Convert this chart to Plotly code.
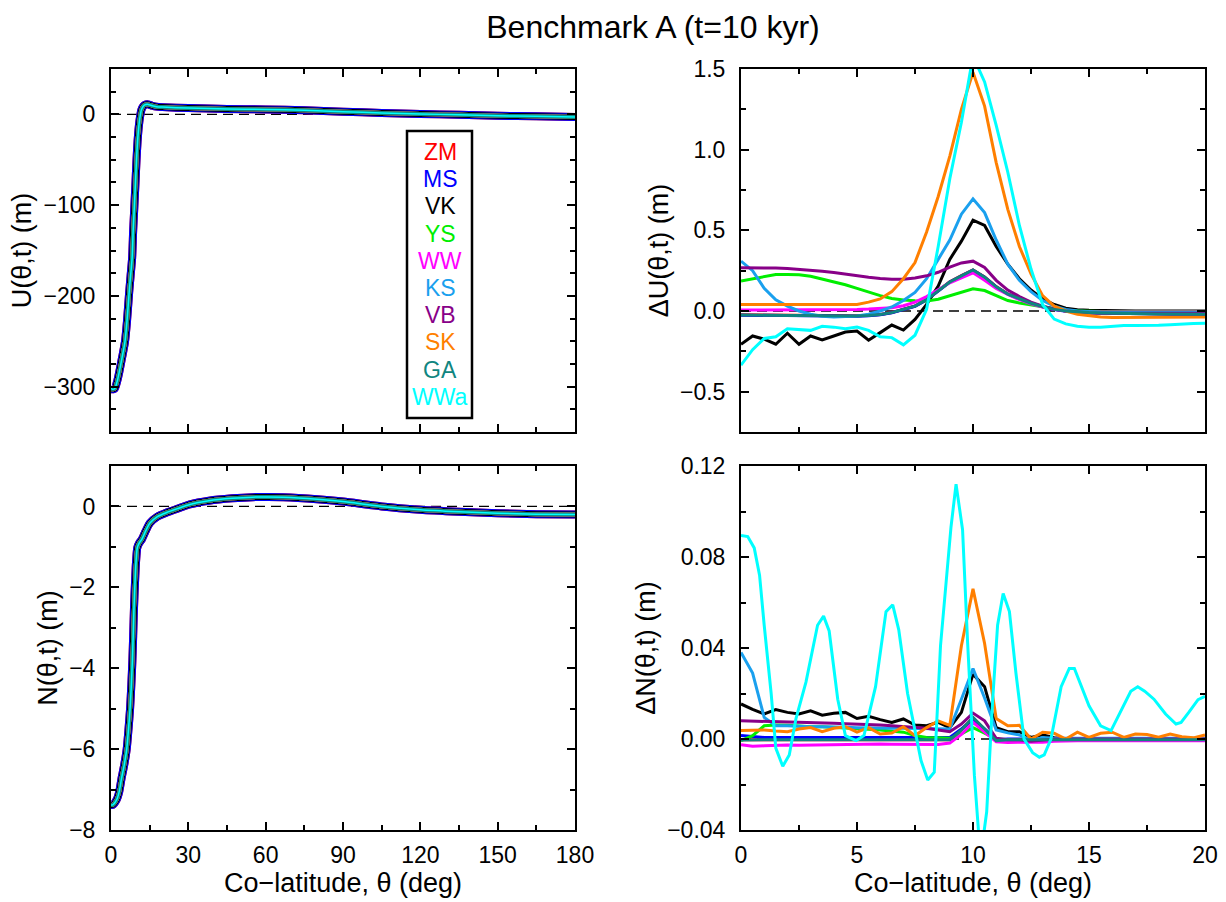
import plotly.graph_objects as go

# ---------------- data ----------------
models = ["ZM", "MS", "VK", "YS", "WW", "KS", "VB", "SK", "GA", "WWa"]
colors = ["#FF0000", "#0000FF", "#000000", "#00EE00", "#FF00FF",
          "#1AA0EE", "#880088", "#FF7F00", "#108580", "#00FFFF"]

# Left panels: all models coincide within line width
theta_U = [0, 0.5, 1.5, 2.5, 3.2, 4.3, 5.4, 6.2, 7.05, 7.6, 8.2, 8.6, 9.0, 9.5, 9.9,
           10.3, 10.8, 11.3, 11.8, 12.5, 13.1, 14.4, 16, 17.6, 20, 30, 45, 60, 75,
           90, 105, 120, 135, 150, 165, 180]
U_all = [-300, -303, -302, -293, -284, -268, -251, -228, -196, -178, -158, -128, -105,
         -75, -50, -30, -13, -2, 5, 9, 10.5, 11, 9.5, 8.5, 8, 7, 6, 5.5, 4.5, 3, 1.5,
         0.5, -0.5, -1.5, -2.2, -2.8]

theta_N = [0, 0.65, 2.2, 3.2, 4.1, 5.1, 6.1, 6.8, 7.4, 7.9, 8.3, 8.6, 8.9, 9.3, 9.6,
           9.9, 10.2, 11, 11.9, 13.5, 15.1, 18, 21.6, 26, 30.6, 38, 47, 55, 66.8, 80,
           90, 105, 120, 135, 150, 165, 180]
N_all = [-7.38, -7.38, -7.25, -7.05, -6.72, -6.4, -6.0, -5.5, -5.0, -4.4, -3.8, -3.2,
         -2.55, -1.9, -1.48, -1.2, -1.02, -0.9, -0.82, -0.6, -0.41, -0.25, -0.15,
         -0.05, 0.05, 0.14, 0.2, 0.23, 0.23, 0.18, 0.12, 0.0, -0.08, -0.13, -0.17,
         -0.19, -0.2]

# Right panels: common co-latitude grid (deg)
theta_r = [0, 0.5, 1, 1.5, 2, 2.5, 3, 3.5, 4, 4.5, 5, 5.5, 6, 6.5, 7, 7.5, 8, 8.5, 9,
           9.5, 10, 10.5, 11, 11.5, 12, 12.5, 13, 13.5, 14, 14.5, 15, 15.5, 16, 16.5,
           17, 17.5, 18, 18.5, 19, 19.5, 20]

dU_ZM = [-0.023, -0.024, -0.025, -0.026, -0.027, -0.028, -0.029, -0.029, -0.030, -0.030,
         -0.030, -0.027, -0.021, -0.009, 0.009, 0.031, 0.071, 0.126, 0.181, 0.219, 0.255,
         0.211, 0.151, 0.106, 0.076, 0.049, 0.028, 0.011, 0.001, -0.005, -0.009, -0.011,
         -0.013, -0.014, -0.015, -0.016, -0.017, -0.018, -0.018, -0.019, -0.019]
dU_MS = [-0.026, -0.027, -0.028, -0.029, -0.030, -0.031, -0.032, -0.032, -0.032, -0.032,
         -0.032, -0.029, -0.023, -0.011, 0.007, 0.029, 0.069, 0.124, 0.179, 0.217, 0.253,
         0.209, 0.149, 0.104, 0.074, 0.047, 0.026, 0.009, -0.001, -0.007, -0.011, -0.013,
         -0.015, -0.016, -0.017, -0.018, -0.019, -0.020, -0.020, -0.021, -0.021]
dU_VK = [-0.206, -0.155, -0.175, -0.206, -0.138, -0.206, -0.155, -0.179, -0.155, -0.130,
         -0.124, -0.181, -0.134, -0.087, -0.118, -0.052, 0.041, 0.155, 0.320, 0.433,
         0.563, 0.530, 0.400, 0.290, 0.200, 0.130, 0.075, 0.040, 0.017, 0.008, 0.004,
         0.002, 0.001, 0.001, 0.0, 0.0, 0.0, 0.0, 0.0, 0.0, 0.0]
dU_YS = [0.186, 0.200, 0.215, 0.226, 0.227, 0.224, 0.215, 0.198, 0.183, 0.163, 0.140,
         0.117, 0.095, 0.078, 0.068, 0.063, 0.062, 0.073, 0.095, 0.120, 0.138, 0.127,
         0.095, 0.065, 0.050, 0.038, 0.025, 0.013, 0.003, 0.0, -0.003, -0.003, -0.003,
         -0.003, -0.003, -0.003, -0.003, -0.003, -0.003, -0.003, -0.003]
dU_WW = [0.006, 0.006, 0.006, 0.007, 0.007, 0.007, 0.008, 0.008, 0.008, 0.009, 0.010,
         0.012, 0.015, 0.020, 0.033, 0.055, 0.089, 0.130, 0.175, 0.205, 0.237, 0.190,
         0.140, 0.103, 0.070, 0.045, 0.025, 0.010, 0.0, -0.004, -0.006, -0.006, -0.006,
         -0.006, -0.006, -0.006, -0.006, -0.006, -0.006, -0.006, -0.006]
dU_KS = [0.309, 0.250, 0.140, 0.070, 0.030, 0.0, -0.020, -0.033, -0.037, -0.036, -0.031,
         -0.020, 0.0, 0.025, 0.065, 0.115, 0.200, 0.320, 0.440, 0.600, 0.695, 0.610,
         0.440, 0.290, 0.190, 0.120, 0.065, 0.030, 0.010, 0.0, -0.005, -0.008, -0.009,
         -0.010, -0.010, -0.010, -0.010, -0.010, -0.010, -0.010, -0.010]
dU_VB = [0.268, 0.268, 0.267, 0.266, 0.263, 0.259, 0.254, 0.247, 0.238, 0.227, 0.218,
         0.209, 0.202, 0.197, 0.197, 0.205, 0.218, 0.240, 0.272, 0.298, 0.309, 0.270,
         0.190, 0.130, 0.090, 0.055, 0.030, 0.012, 0.0, -0.008, -0.012, -0.014, -0.014,
         -0.014, -0.014, -0.014, -0.014, -0.014, -0.014, -0.014, -0.014]
dU_SK = [0.041, 0.041, 0.040, 0.039, 0.038, 0.037, 0.037, 0.037, 0.037, 0.038, 0.040,
         0.055, 0.075, 0.120, 0.200, 0.300, 0.490, 0.710, 0.960, 1.250, 1.480, 1.270,
         0.920, 0.630, 0.400, 0.230, 0.095, 0.030, 0.0, -0.020, -0.030, -0.037, -0.040,
         -0.040, -0.040, -0.040, -0.040, -0.039, -0.038, -0.038, -0.037]
dU_GA = [-0.025, -0.026, -0.027, -0.028, -0.029, -0.030, -0.031, -0.031, -0.031, -0.031,
         -0.031, -0.028, -0.022, -0.010, 0.008, 0.030, 0.070, 0.125, 0.180, 0.218, 0.254,
         0.210, 0.150, 0.105, 0.075, 0.048, 0.027, 0.010, 0.0, -0.006, -0.010, -0.012,
         -0.014, -0.015, -0.016, -0.017, -0.018, -0.019, -0.019, -0.020, -0.020]
dU_WWa = [-0.336, -0.240, -0.170, -0.160, -0.110, -0.115, -0.120, -0.095, -0.100, -0.110,
          -0.100, -0.120, -0.160, -0.165, -0.210, -0.150, 0.010, 0.400, 0.820, 1.170,
          1.580, 1.420, 1.150, 0.860, 0.530, 0.260, 0.040, -0.050, -0.080, -0.095, -0.100,
          -0.100, -0.095, -0.090, -0.090, -0.090, -0.088, -0.085, -0.080, -0.078, -0.076]

dN_ZM = [-0.0003, -0.0003, -0.0003, -0.0003, -0.0003, -0.0003, -0.0003, -0.0003, -0.0003,
         -0.0003, -0.0003, -0.0003, -0.0003, -0.0003, -0.0003, -0.0003, -0.0003, -0.0003,
         -0.0003, 0.0040, 0.0093, 0.0043, -0.0006, -0.0003, -0.0003, -0.0003, -0.0003,
         -0.0003, -0.0003, -0.0003, -0.0003, -0.0003, -0.0003, -0.0003, -0.0003, -0.0003,
         -0.0003, -0.0003, -0.0003, -0.0003, -0.0003]
dN_MS = [0.0015, 0.0010, 0.0007, 0.0007, 0.0007, 0.0007, 0.0007, 0.0007, 0.0007, 0.0007,
         0.0007, 0.0007, 0.0007, 0.0007, 0.0007, 0.0007, 0.0007, 0.0007, 0.0007, 0.0044,
         0.0085, 0.0044, -0.0003, 0.0, 0.0, 0.0, 0.0, 0.0, 0.0, 0.0, 0.0, 0.0, 0.0, 0.0,
         0.0, 0.0, 0.0, 0.0, 0.0, 0.0, 0.0]
dN_VK = [0.0154, 0.0130, 0.0110, 0.0129, 0.0117, 0.0110, 0.0124, 0.0105, 0.0113, 0.0117,
         0.0090, 0.0100, 0.0085, 0.0073, 0.0088, 0.0061, 0.0058, 0.0073, 0.0050, 0.0117,
         0.0285, 0.0230, 0.0050, 0.0032, 0.0032, 0.0007, 0.0018, 0.0006, 0.0, 0.0, 0.0,
         0.0, 0.0, 0.0, 0.0, 0.0, 0.0, 0.0, 0.0, 0.0, 0.0]
dN_YS = [-0.0007, 0.0015, 0.0058, 0.0061, 0.0060, 0.0056, 0.0054, 0.0054, 0.0052, 0.0047,
         0.0047, 0.0043, 0.0040, 0.0035, 0.0030, 0.0015, 0.0007, 0.0005, 0.0003, 0.0022,
         0.0050, 0.0026, 0.0, -0.0003, -0.0003, -0.0003, -0.0003, -0.0003, -0.0003,
         -0.0003, -0.0003, -0.0003, -0.0003, -0.0003, -0.0003, -0.0003, -0.0003, -0.0003,
         -0.0003, -0.0003, -0.0003]
dN_WW = [-0.0025, -0.0032, -0.0030, -0.0027, -0.0026, -0.0027, -0.0026, -0.0026, -0.0025,
         -0.0025, -0.0024, -0.0024, -0.0022, -0.0023, -0.0024, -0.0025, -0.0026, -0.0024,
         -0.0018, 0.0020, 0.0073, 0.0030, -0.0012, -0.0015, -0.0015, -0.0015, -0.0014,
         -0.0010, -0.0008, -0.0008, -0.0008, -0.0008, -0.0008, -0.0008, -0.0008, -0.0008,
         -0.0008, -0.0008, -0.0008, -0.0008, -0.0008]
dN_KS = [0.0380, 0.0290, 0.0095, 0.0058, 0.0058, 0.0055, 0.0054, 0.0054, 0.0054, 0.0052,
         0.0050, 0.0048, 0.0047, 0.0047, 0.0047, 0.0047, 0.0047, 0.0045, 0.0044, 0.0175,
         0.0310, 0.0180, 0.0040, 0.0027, 0.0018, -0.0007, 0.0007, 0.0003, 0.0003, 0.0003,
         0.0003, 0.0003, 0.0003, 0.0003, 0.0003, 0.0003, 0.0003, 0.0003, 0.0003, 0.0003,
         0.0003]
dN_VB = [0.0080, 0.0079, 0.0077, 0.0075, 0.0073, 0.0072, 0.0071, 0.0070, 0.0069, 0.0067,
         0.0066, 0.0063, 0.0061, 0.0058, 0.0055, 0.0051, 0.0047, 0.0040, 0.0032, 0.0066,
         0.0114, 0.0080, 0.0003, -0.0003, -0.0003, -0.0010, -0.0005, 0.0, 0.0, 0.0, 0.0,
         0.0, 0.0, 0.0, 0.0, 0.0, 0.0, 0.0, 0.0, 0.0, 0.0]
dN_SK = [0.0037, 0.0040, 0.0040, 0.0035, 0.0032, 0.0044, 0.0050, 0.0032, 0.0047, 0.0054,
         0.0030, 0.0050, 0.0022, 0.0026, 0.0054, 0.0015, 0.0050, 0.0080, 0.0060, 0.0410,
         0.0660, 0.0420, 0.0090, 0.0058, 0.0060, 0.0, 0.0030, 0.0025, 0.0, 0.0030, 0.0007,
         0.0025, 0.0030, 0.0007, 0.0022, 0.0020, 0.0008, 0.0022, 0.0010, 0.0005, 0.0018]
dN_GA = [-0.0004, -0.0003, -0.0003, -0.0003, -0.0003, -0.0003, -0.0003, -0.0003, -0.0003,
         -0.0003, -0.0003, -0.0003, -0.0003, -0.0003, -0.0003, -0.0003, -0.0003, -0.0003,
         -0.0003, 0.0040, 0.0095, 0.0044, -0.0007, -0.0003, -0.0003, -0.0003, -0.0003,
         -0.0003, -0.0003, -0.0003, -0.0003, -0.0003, -0.0003, -0.0003, -0.0003, -0.0003,
         -0.0003, -0.0003, -0.0003, -0.0003, -0.0003]

# WWa geoid difference oscillates; it has its own sampling
theta_dN_WWa = [0, 0.29, 0.57, 0.8, 1.0, 1.3, 1.5, 1.8, 2.08, 2.37, 2.8, 3.3, 3.56, 3.8,
                4.17, 4.5, 4.96, 5.3, 5.8, 6.25, 6.54, 6.8, 7.18, 7.76, 8.05, 8.33, 8.6,
                9.05, 9.27, 9.55, 9.77, 10.06, 10.27, 10.42, 10.59, 10.85, 11.06, 11.3,
                11.57, 11.85, 12.2, 12.57, 12.86, 13.07, 13.36, 13.8, 14.15, 14.37, 15.0,
                15.5, 15.95, 16.38, 16.8, 17.1, 17.4, 17.8, 18.3, 18.75, 18.97, 19.3,
                19.7, 20]
dN_WWa = [0.0895, 0.089, 0.084, 0.072, 0.050, 0.020, -0.004, -0.012, -0.007, 0.009, 0.025,
          0.050, 0.054, 0.0475, 0.0175, 0.0015, -0.0007, 0.0015, 0.023, 0.056, 0.059,
          0.048, 0.020, -0.0095, -0.018, -0.0146, 0.041, 0.093, 0.112, 0.092, 0.042,
          -0.016, -0.045, -0.045, -0.032, 0.0175, 0.050, 0.064, 0.056, 0.029, 0.0, -0.006,
          -0.008, -0.007, 0.0, 0.023, 0.031, 0.031, 0.0146, 0.0058, 0.0037, 0.0124, 0.021,
          0.023, 0.021, 0.0175, 0.011, 0.0066, 0.0073, 0.0117, 0.0173, 0.0187]

dU = {"ZM": dU_ZM, "MS": dU_MS, "VK": dU_VK, "YS": dU_YS, "WW": dU_WW,
      "KS": dU_KS, "VB": dU_VB, "SK": dU_SK, "GA": dU_GA, "WWa": dU_WWa}
dN = {"ZM": dN_ZM, "MS": dN_MS, "VK": dN_VK, "YS": dN_YS, "WW": dN_WW,
      "KS": dN_KS, "VB": dN_VB, "SK": dN_SK, "GA": dN_GA}

# ---------------- style ----------------
W, H = 1226, 902
FONT = "Liberation Sans, Arial, Helvetica, sans-serif"
left_widths = {"ZM": 8, "MS": 8, "VK": 6, "YS": 4, "WW": 4, "KS": 4,
               "VB": 4, "SK": 4, "GA": 4, "WWa": 1.5}

def px_x(p):
    return p / W

def px_y(p):
    return 1 - p / H

fig = go.Figure()

# zero reference lines (drawn first, under the curves)
for xa, ya, xr in [("x", "y", [0, 180]), ("x2", "y2", [0, 20]),
                   ("x3", "y3", [0, 180]), ("x4", "y4", [0, 20])]:
    fig.add_trace(go.Scatter(x=xr, y=[0, 0], xaxis=xa, yaxis=ya, mode="lines",
                             line=dict(color="black", width=1.3, dash="10px,6px"),
                             showlegend=False, hoverinfo="skip"))

for m, c in zip(models, colors):
    fig.add_trace(go.Scatter(x=theta_U, y=U_all, xaxis="x", yaxis="y", mode="lines",
                             line=dict(color=c, width=left_widths[m], shape="spline",
                                       smoothing=0.6),
                             name=m, showlegend=False))
    fig.add_trace(go.Scatter(x=theta_N, y=N_all, xaxis="x3", yaxis="y3", mode="lines",
                             line=dict(color=c, width=left_widths[m], shape="spline",
                                       smoothing=0.6),
                             name=m, showlegend=False))
    fig.add_trace(go.Scatter(x=theta_r, y=dU[m], xaxis="x2", yaxis="y2", mode="lines",
                             line=dict(color=c, width=3), name=m, showlegend=False))
    if m == "WWa":
        fig.add_trace(go.Scatter(x=theta_dN_WWa, y=dN_WWa, xaxis="x4", yaxis="y4",
                                 mode="lines", line=dict(color=c, width=3), name=m,
                                 showlegend=False))
    else:
        fig.add_trace(go.Scatter(x=theta_r, y=dN[m], xaxis="x4", yaxis="y4",
                                 mode="lines", line=dict(color=c, width=3), name=m,
                                 showlegend=False))

xl = [px_x(111), px_x(575)]
xr_dom = [px_x(741), px_x(1205)]
yt = [px_y(432), px_y(69)]
yb = [px_y(830), px_y(466)]

tickfont = dict(family=FONT, size=23, color="black")
titlefont = dict(family=FONT, size=27, color="black")

def axis(domain, anchor, rng, dtick, mdtick, tickfmt=None, labels=True, title=None,
         tick0=0, standoff=6, tstandoff=6):
    d = dict(domain=domain, anchor=anchor, range=rng, autorange=False,
             showline=True, linecolor="black", linewidth=2, mirror="allticks",
             ticks="inside", ticklen=8, tickwidth=1.5, tickcolor="black",
             dtick=dtick, tick0=tick0, showgrid=False, zeroline=False,
             showticklabels=labels, tickfont=tickfont, ticklabelstandoff=standoff,
             minor=dict(ticks="inside", ticklen=5, tickwidth=1.5, tickcolor="black",
                        dtick=mdtick, tick0=tick0, showgrid=False),
             automargin=False)
    if tickfmt:
        d["tickformat"] = tickfmt
    if title:
        d["title"] = dict(text=title, font=titlefont, standoff=tstandoff)
    return d

fig.update_layout(
    width=W, height=H,
    margin=dict(l=0, r=0, t=0, b=0),
    paper_bgcolor="white", plot_bgcolor="white",
    font=dict(family=FONT, color="black"),
    showlegend=False,
    title=dict(text="Benchmark A (t=10 kyr)", x=px_x(653), y=px_y(27),
               xanchor="center", yanchor="middle", xref="paper", yref="container",
               font=dict(family=FONT, size=32, color="black")),
    xaxis=axis(xl, "y", [0, 180], 30, 15, labels=False),
    yaxis=axis(yt, "x", [-350, 50], 100, 25, title="U(θ,t) (m)", standoff=9,
               tstandoff=4),
    xaxis2=axis(xr_dom, "y2", [0, 20], 5, 2.5, labels=False),
    yaxis2=axis(yt, "x2", [-0.75, 1.5], 0.5, 0.25, tickfmt=".1f",
                title="ΔU(θ,t) (m)", standoff=9, tstandoff=4),
    xaxis3=axis(xl, "y3", [0, 180], 30, 15, title="Co−latitude, θ (deg)", standoff=3,
                tstandoff=3),
    yaxis3=axis(yb, "x3", [-8, 1], 2, 1, title="N(θ,t) (m)", standoff=9, tstandoff=4),
    xaxis4=axis(xr_dom, "y4", [0, 20], 5, 2.5, title="Co−latitude, θ (deg)", standoff=3,
                tstandoff=3),
    yaxis4=axis(yb, "x4", [-0.04, 0.12], 0.04, 0.02, tickfmt=".2f",
                title="ΔN(θ,t) (m)", standoff=9, tstandoff=4),
)

# legend box with coloured model names
fig.add_shape(type="rect", xref="paper", yref="paper",
              x0=px_x(407), x1=px_x(472), y0=px_y(418), y1=px_y(131),
              line=dict(color="black", width=2.5), fillcolor="white", layer="above")
for i, (m, c) in enumerate(zip(models, colors)):
    fig.add_annotation(x=px_x(440), y=px_y(152 + i * 27.2), xref="paper", yref="paper",
                       text=m, showarrow=False, xanchor="center", yanchor="middle",
                       font=dict(family=FONT, size=23, color=c))

fig.write_html("out.html", config={"displayModeBar": False},
               post_script="document.body.style.margin='0px';"
                           "document.body.style.overflow='hidden';")
